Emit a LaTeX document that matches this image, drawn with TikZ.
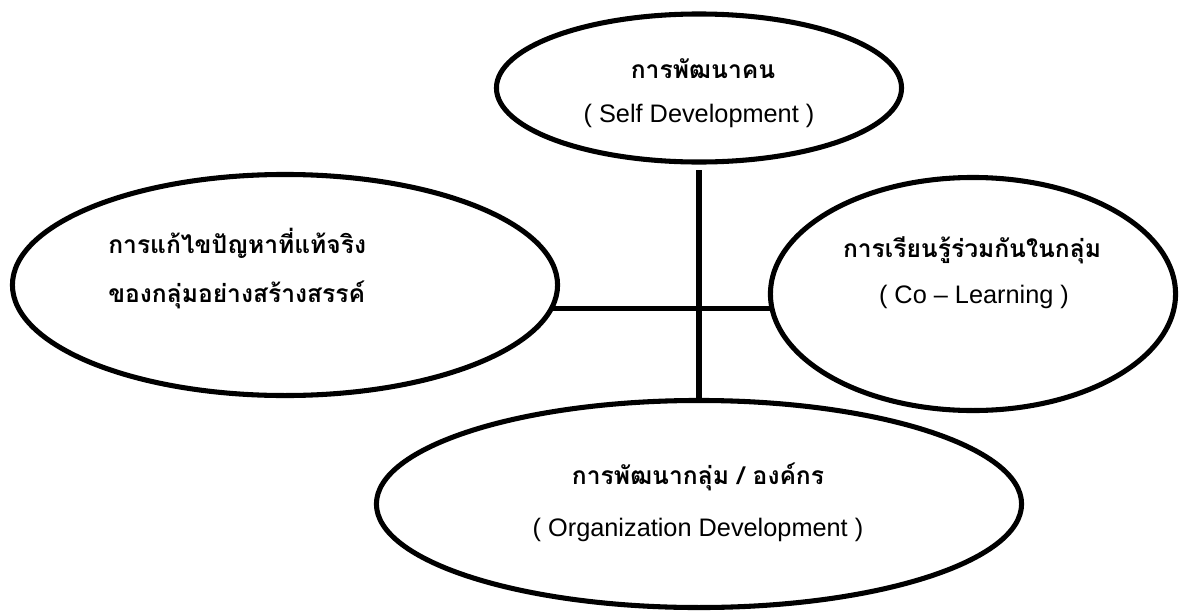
\documentclass[tikz,border=0pt]{standalone}
\usepackage{fontspec}
\setmainfont{Liberation Sans}
\newfontfamily\thaifont[Script=Thai]{Loma}
\usetikzlibrary{shapes.geometric}
\tikzset{
  oval/.style={draw,ellipse,line width=3.6pt,inner sep=0pt,outer sep=0pt},
  thtext/.style={font=\thaifont\bfseries\fontsize{17.5}{20}\selectfont,inner sep=0pt},
  entext/.style={font=\fontsize{18}{21}\selectfont,inner sep=0pt},
}

\begin{document}
\begin{tikzpicture}[x=0.025cm,y=-0.025cm]
    \useasboundingbox (0,0) rectangle (1180,612);

    % the four ovals
    \node[oval,minimum width=10.125cm,minimum height=3.7cm] (self) at (699,88) {};
    \node[oval,minimum width=13.625cm,minimum height=5.525cm] (solve) at (285,285) {};
    \node[oval,minimum width=10.125cm,minimum height=5.825cm] (colearn) at (973,294) {};
    \node[oval,minimum width=16.125cm,minimum height=5.175cm] (org) at (699,504) {};

    % cross of connectors
    \draw[line width=3.6pt,shorten <=0.2cm] (self.south) -- (self.south |- org.north);
    \draw[line width=3.6pt] (solve.-5.6) -- (solve.-5.6 -| colearn.west);

    % texts
    \node[thtext] (selfth) at (703,69) {การพัฒนาคน};
    \node[entext] (selfen) at (699,116) {( Self Development )};
    \node[thtext,anchor=west] (solveth1) at (108,243) {การแก้ไขปัญหาที่แท้จริง};
    \node[thtext,anchor=west] (solveth2) at (108,295) {ของกลุ่มอย่างสร้างสรรค์};
    \node[thtext] (colearnth) at (972,250) {การเรียนรู้ร่วมกันในกลุ่ม};
    \node[entext] (colearnen) at (974,297) {( Co – Learning )};
    \node[thtext] (orgth) at (698,477) {การพัฒนากลุ่ม / องค์กร};
    \node[entext] (orgen) at (698,530) {( Organization Development )};
\end{tikzpicture}
\end{document}
